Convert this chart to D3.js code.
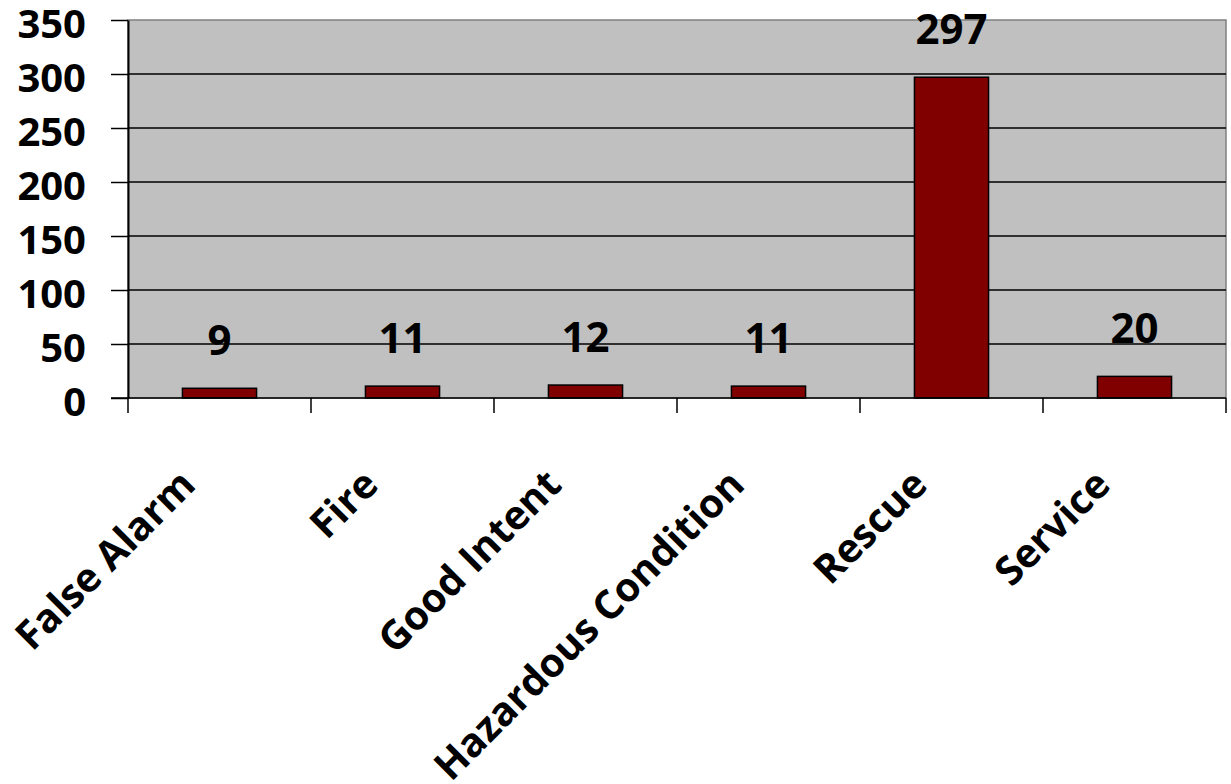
<!DOCTYPE html>
<html>
<head>
<meta charset="utf-8">
<title>Incidents by type</title>
<script src="https://d3js.org/d3.v7.min.js"></script>
<style>
  body { margin: 0; background: #fff; }
  text { font-family: "Open Sans", "Noto Sans", sans-serif; font-weight: 700; fill: #000; }
</style>
</head>
<body>
<svg id="chart" width="1231" height="784"></svg>
<script>
// data
var categories = ["False Alarm", "Fire", "Good Intent", "Hazardous Condition", "Rescue", "Service"];
var counts = [9, 11, 12, 11, 297, 20];
var yTicks = [0, 50, 100, 150, 200, 250, 300, 350];

var svg = d3.select("#chart");
// plot area edges (note: "top" is taken by window.top)
var plotLeft = 128, plotRight = 1226, plotTop = 20, plotBottom = 398;

var x = d3.scaleBand().domain(categories).range([plotLeft, plotRight]).padding(0);
var y = d3.scaleLinear().domain([0, 350]).range([plotBottom, plotTop]);

// plot background
svg.append("rect")
  .attr("x", plotLeft).attr("y", plotTop)
  .attr("width", plotRight - plotLeft).attr("height", plotBottom - plotTop)
  .attr("fill", "#c0c0c0")
  .attr("stroke", "#808080").attr("stroke-width", 1.5);

// gridlines
svg.append("g").selectAll("line")
  .data(yTicks.filter(function(d) { return d > 0 && d < 350; }))
  .enter().append("line")
  .attr("x1", plotLeft).attr("x2", plotRight)
  .attr("y1", function(d) { return y(d); }).attr("y2", function(d) { return y(d); })
  .attr("stroke", "#000").attr("stroke-width", 1.5);

// bars
var bw = x.bandwidth() * 0.405;
svg.append("g").selectAll("rect")
  .data(counts)
  .enter().append("rect")
  .attr("x", function(d, i) { return x(categories[i]) + x.bandwidth() / 2 - bw / 2; })
  .attr("y", function(d) { return y(d); })
  .attr("width", bw)
  .attr("height", function(d) { return y(0) - y(d); })
  .attr("fill", "#800000")
  .attr("stroke", "#000").attr("stroke-width", 1.5);

// value labels
svg.append("g").selectAll("text")
  .data(counts)
  .enter().append("text")
  .attr("x", function(d, i) { return x(categories[i]) + x.bandwidth() / 2; })
  .attr("y", function(d) { return y(d) - 33; })
  .attr("text-anchor", "middle")
  .style("font-size", "42px")
  .text(function(d) { return d; });

// y axis
var yAxis = svg.append("g")
  .attr("transform", "translate(" + plotLeft + ",0)")
  .call(d3.axisLeft(y).tickValues(yTicks).tickSize(17).tickPadding(25).tickSizeOuter(0));
yAxis.select(".domain").attr("stroke", "#000").attr("stroke-width", 2);
yAxis.selectAll(".tick line").attr("stroke", "#000").attr("stroke-width", 1.5);
yAxis.selectAll(".tick text")
  .style("font-size", "40px").style("font-family", "'Open Sans', sans-serif").style("font-weight", 700)
  .attr("dy", "0.44em");

// x axis: ticks at category boundaries
var xAxis = svg.append("g").attr("transform", "translate(0," + plotBottom + ")");
xAxis.append("line")
  .attr("x1", plotLeft - 17).attr("x2", plotRight)
  .attr("stroke", "#000").attr("stroke-width", 1.5);
xAxis.selectAll("line.tk")
  .data(categories.concat(["end"]))
  .enter().append("line").attr("class", "tk")
  .attr("x1", function(d, i) { return plotLeft + i * x.bandwidth(); })
  .attr("x2", function(d, i) { return plotLeft + i * x.bandwidth(); })
  .attr("y1", 0).attr("y2", 15)
  .attr("stroke", "#000").attr("stroke-width", 1.5);

// rotated category labels
svg.append("g").selectAll("text")
  .data(categories)
  .enter().append("text")
  .attr("text-anchor", "end")
  .attr("transform", function(d) {
    return "translate(" + (x(d) + x.bandwidth() / 2 - 22) + ",487) rotate(-45)";
  })
  .style("font-size", "40px")
  .text(function(d) { return d; });
</script>
</body>
</html>
